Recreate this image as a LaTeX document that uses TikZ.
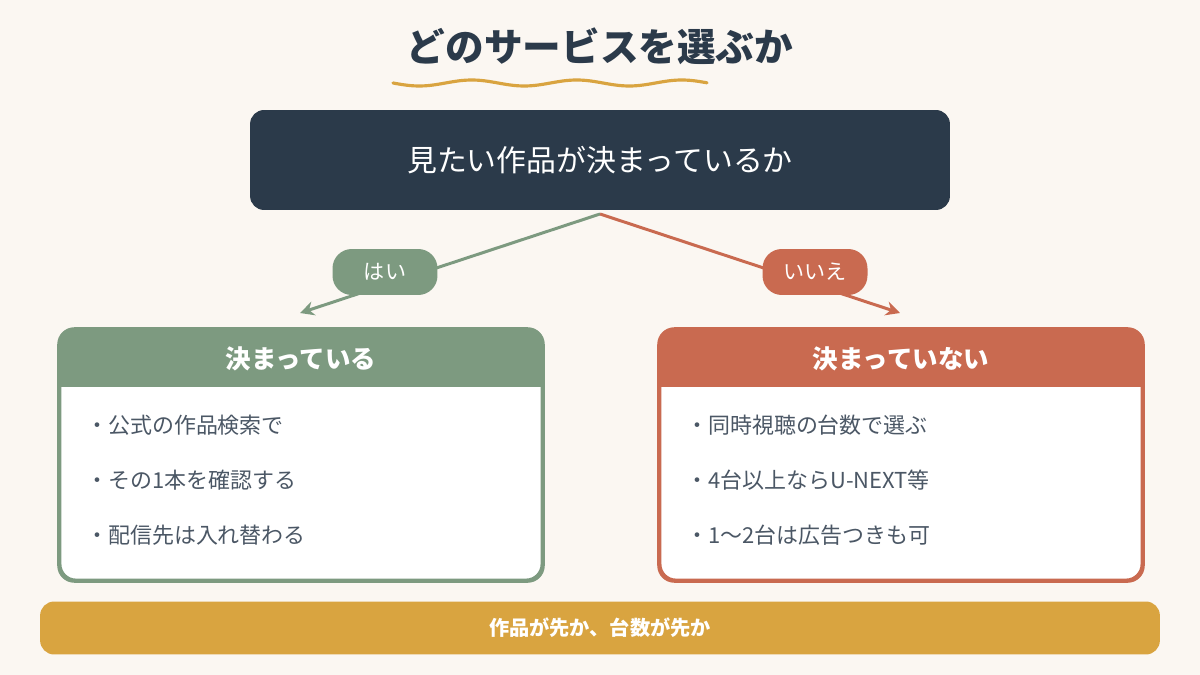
\documentclass[tikz,border=0pt]{standalone}
\usepackage{fontspec}
\setmainfont{Noto Sans CJK JP}
\usepackage{xcolor}
\definecolor{bgcream}{HTML}{FBF7F2}
\definecolor{navy}{HTML}{2B3A4A}
\definecolor{sage}{HTML}{7D9A80}
\definecolor{terra}{HTML}{C96A50}
\definecolor{mustard}{HTML}{D9A440}
\usetikzlibrary{positioning,arrows.meta}
\tikzset{
  pill/.style={rounded corners=11pt, minimum width=2.1cm, minimum height=0.92cm, text=white, font=\fontsize{12}{14}\selectfont},
  card/.style={draw, line width=1.6pt, fill=white, rounded corners=9pt, minimum width=9.64cm, minimum height=5cm},
  item/.style={font=\fontsize{12.5}{15}\selectfont, text=navy!85, anchor=west},
  branch/.style={line width=1.7pt, -{Stealth[length=8pt,width=8pt]}}
}
\begin{document}
\begin{tikzpicture}[x=0.02cm, y=-0.02cm]
  \fill[bgcream] (0,0) rectangle (1200,675);
  \useasboundingbox (0,0) rectangle (1200,675);

  \node [text=navy, font=\bfseries\fontsize{22}{26}\selectfont] (title) at (600,46) {どのサービスを選ぶか};
  \draw [mustard, line width=1.8pt, line cap=round] plot[domain=0:314, samples=90] ({393+\x}, {83+3*sin(\x*3.4286)});

  \node [fill=navy, rounded corners=8pt, minimum width=14cm, minimum height=2cm, text=white, font=\fontsize{17}{20}\selectfont] (ask) at (600,160) {見たい作品が決まっているか};

  \coordinate (fork) at (600,214);
  \coordinate (yesend) at (300,313);
  \coordinate (noend) at (900,313);
  \draw [branch, sage] (fork) -- (yesend);
  \draw [branch, terra] (fork) -- (noend);
  \node [pill, fill=sage] (yes) at (385,272) {はい};
  \node [pill, fill=terra] (no) at (815,272) {いいえ};

  % two answer cards
  \foreach \cx/\col/\head/\name in {301/sage/決まっている/l, 901/terra/決まっていない/r} {
    \node [card, draw=\col] (card\name) at (\cx,455) {};
    \begin{scope}
      \clip [rounded corners=9pt] (card\name.north west) rectangle (card\name.south east);
      \fill [\col] (card\name.north west) rectangle ([yshift=-1.16cm]card\name.north east);
    \end{scope}
    \draw [\col, line width=1.6pt, rounded corners=9pt] (card\name.north west) rectangle (card\name.south east);
    \node [text=white, font=\bfseries\fontsize{14.5}{17}\selectfont] (head\name) at (\cx,359) {\head};
  }

  \node [item] (l1) at (80,425) {・公式の作品検索で};
  \node [item] (l2) at (80,480) {・その1本を確認する};
  \node [item] (l3) at (80,535) {・配信先は入れ替わる};
  \node [item] (r1) at (680,425) {・同時視聴の台数で選ぶ};
  \node [item] (r2) at (680,480) {・4台以上ならU-NEXT等};
  \node [item] (r3) at (680,535) {・1〜2台は広告つきも可};

  \node [fill=mustard, rounded corners=8pt, minimum width=22.4cm, minimum height=1.06cm, text=white, font=\bfseries\fontsize{11.5}{14}\selectfont] (summary) at (600,628) {作品が先か、台数が先か};
\end{tikzpicture}
\end{document}
